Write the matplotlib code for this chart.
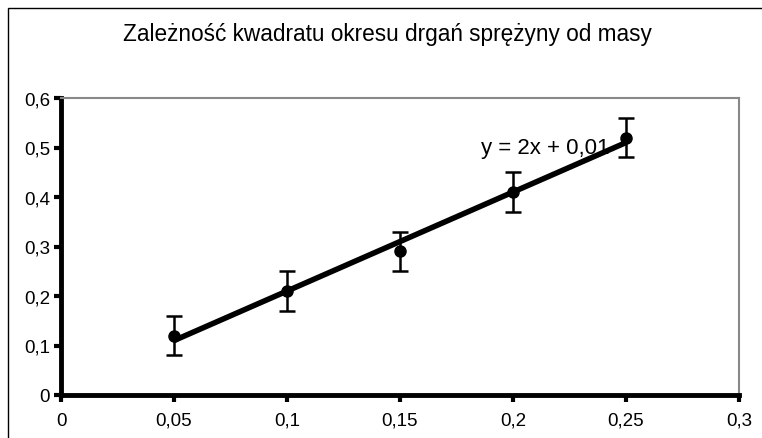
import matplotlib
matplotlib.use("Agg")
import matplotlib.pyplot as plt
from matplotlib.patches import Rectangle
import numpy as np

plt.rcParams['font.family'] = ['Liberation Sans', 'DejaVu Sans']

title = "Zależność kwadratu okresu drgań sprężyny od masy"
masses = [0.05, 0.10, 0.15, 0.20, 0.25]
period_sq = [0.12, 0.21, 0.29, 0.41, 0.52]
errors = [0.04, 0.04, 0.04, 0.04, 0.04]
slope = 2.0
intercept = 0.01
eq_label = "y = 2x + 0,01"
x_ticks = [0, 0.05, 0.1, 0.15, 0.2, 0.25, 0.3]
x_ticklabels = ["0", "0,05", "0,1", "0,15", "0,2", "0,25", "0,3"]
y_ticks = [0, 0.1, 0.2, 0.3, 0.4, 0.5, 0.6]
y_ticklabels = ["0", "0,1", "0,2", "0,3", "0,4", "0,5", "0,6"]

W, H = 762, 439
fig = plt.figure(figsize=(W / 100, H / 100), dpi=100)
fig.patch.set_facecolor('white')

# outer chart border
fig.patches.append(Rectangle((8 / W, -0.05), 1.2, 1 - 9 / H + 0.05,
                             transform=fig.transFigure, fill=False,
                             edgecolor='black', linewidth=1.0, zorder=0))

ax = fig.add_axes([61 / W, 1 - 396 / H, (739 - 61) / W, (396 - 99) / H])
ax.set_xlim(0, 0.3)
ax.set_ylim(0, 0.6)

# trend line
xl = np.array([masses[0], masses[-1]])
ax.plot(xl, slope * xl + intercept, color='black', linewidth=4, zorder=2,
        solid_capstyle='butt')

ax.errorbar(masses, period_sq, yerr=errors, fmt='o', color='black',
            markersize=8, elinewidth=1.8, capsize=6, capthick=1.8, zorder=3)

ax.text(0.2425, 0.5, eq_label, fontsize=16, ha='right', va='center',
        color='black')

ax.set_xticks(x_ticks)
ax.set_xticklabels(x_ticklabels)
ax.set_yticks(y_ticks)
ax.set_yticklabels(y_ticklabels)
ax.tick_params(axis='both', direction='out', length=5, width=3,
               labelsize=13.5, color='black')
ax.tick_params(axis='x', pad=7)
ax.tick_params(axis='y', pad=3)

for s in ['left', 'bottom']:
    ax.spines[s].set_linewidth(3.5)
    ax.spines[s].set_color('black')
for s in ['top', 'right']:
    ax.spines[s].set_linewidth(1.5)
    ax.spines[s].set_color('#888888')

fig.text(387 / W, 1 - 35 / H, title, fontsize=16.3, ha='center', va='center')

fig.savefig('out.png', dpi=100)
